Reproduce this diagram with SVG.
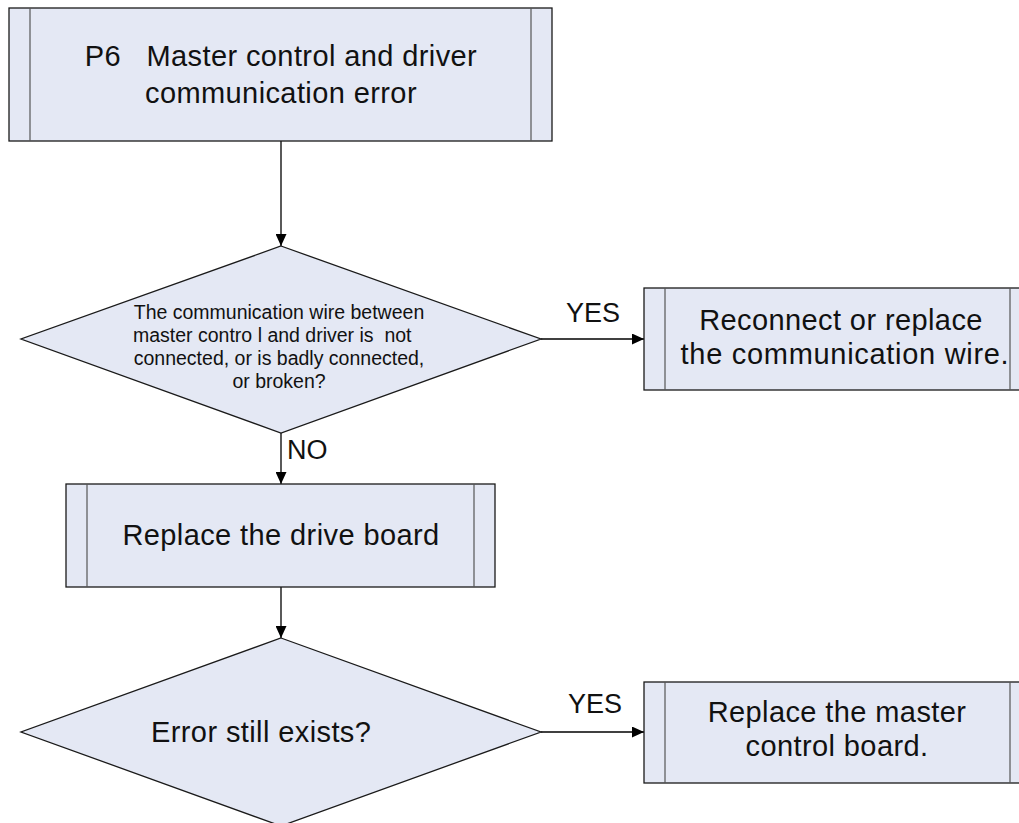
<svg xmlns="http://www.w3.org/2000/svg" width="1019" height="823" viewBox="0 0 1019 823">
  <style>
    .box { fill: #E4E8F4; stroke: #1a1a1a; stroke-width: 1.3; }
    .inner { stroke: #555; stroke-width: 1.2; fill: none; }
    .dia { fill: #E4E8F4; stroke: #1a1a1a; stroke-width: 1.3; }
    .conn { stroke: #000; stroke-width: 1.3; fill: none; }
    .big { font-family: "Liberation Sans", Arial, sans-serif; font-size: 29px; fill: #111; letter-spacing: 0.4px; }
    .small { font-family: "Liberation Sans", Arial, sans-serif; font-size: 19.5px; fill: #111; }
    .lbl { font-family: "Liberation Sans", Arial, sans-serif; font-size: 27px; fill: #111; }
    .mid { text-anchor: middle; }
    .pre { white-space: pre; }
  </style>
  <defs>
    <marker id="arr" viewBox="0 0 12 12" refX="12" refY="6" markerWidth="12" markerHeight="11" markerUnits="userSpaceOnUse" orient="auto" preserveAspectRatio="none">
      <path d="M0,0 L12,6 L0,12 Z" fill="#000"/>
    </marker>
  </defs>
  <rect width="1019" height="823" fill="#fff"/>

  <g id="connectors">
    <line class="conn" x1="281" y1="141" x2="281" y2="246" marker-end="url(#arr)"/>
    <line class="conn" x1="541" y1="339" x2="644" y2="339" marker-end="url(#arr)"/>
    <line class="conn" x1="281" y1="433" x2="281" y2="484" marker-end="url(#arr)"/>
    <line class="conn" x1="281" y1="587" x2="281" y2="638" marker-end="url(#arr)"/>
    <line class="conn" x1="541" y1="732" x2="644" y2="732" marker-end="url(#arr)"/>
    <text class="lbl" x="566" y="322">YES</text>
    <text class="lbl" x="287" y="459">NO</text>
    <text class="lbl" x="568" y="713">YES</text>
  </g>

  <g id="start">
    <rect class="box" x="9" y="8" width="543" height="133"/>
    <line class="inner" x1="30" y1="8" x2="30" y2="141"/>
    <line class="inner" x1="531" y1="8" x2="531" y2="141"/>
    <text class="big mid pre" x="281" y="66">P6   Master control and driver</text>
    <text class="big mid" x="281" y="103">communication error</text>
  </g>

  <g id="decision1">
    <polygon class="dia" points="281,246 541,339 281,433 21,339"/>
    <text class="small mid" x="279" y="318.5">The communication wire between</text>
    <text class="small pre" x="133" y="341.5">master contro l and driver is  not</text>
    <text class="small mid" x="279" y="364.5">connected, or is badly connected,</text>
    <text class="small mid" x="279" y="387.5">or broken?</text>
  </g>

  <g id="reconnect">
    <rect class="box" x="644" y="288" width="400" height="102"/>
    <line class="inner" x1="665" y1="288" x2="665" y2="390"/>
    <line class="inner" x1="1010" y1="288" x2="1010" y2="390"/>
    <text class="big mid" x="841" y="330">Reconnect or replace</text>
    <text class="big mid" x="845" y="364" style="letter-spacing:0.7px">the communication wire.</text>
  </g>

  <g id="replace-drive">
    <rect class="box" x="66" y="484" width="429" height="103"/>
    <line class="inner" x1="87" y1="484" x2="87" y2="587"/>
    <line class="inner" x1="474" y1="484" x2="474" y2="587"/>
    <text class="big mid" x="281" y="545">Replace the drive board</text>
  </g>

  <g id="decision2">
    <polygon class="dia" points="281,638 541,732 281,826 21,732"/>
    <text class="big" x="151" y="742">Error still exists?</text>
  </g>

  <g id="replace-master">
    <rect class="box" x="644" y="682" width="400" height="101"/>
    <line class="inner" x1="665" y1="682" x2="665" y2="783"/>
    <line class="inner" x1="1010" y1="682" x2="1010" y2="783"/>
    <text class="big mid" x="837" y="722">Replace the master</text>
    <text class="big mid" x="837" y="756">control board.</text>
  </g>
</svg>
